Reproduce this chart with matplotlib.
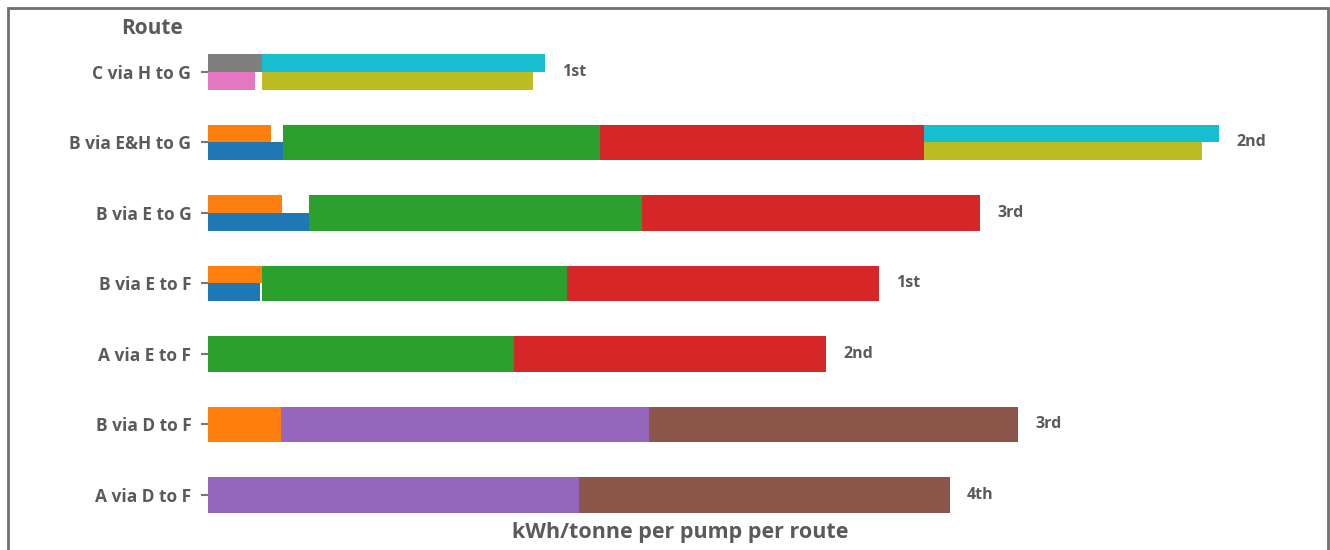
import matplotlib
matplotlib.use("Agg")
import matplotlib.pyplot as plt
from matplotlib.patches import Rectangle

plt.rcParams['font.family'] = ['Open Sans', 'DejaVu Sans']

# routes top to bottom, with the ranking printed after each bar
routes = ["C via H to G", "B via E&H to G", "B via E to G", "B via E to F",
          "A via E to F", "B via D to F", "A via D to F"]
ranks = ["1st", "2nd", "3rd", "1st", "2nd", "3rd", "4th"]

# energy per stage along each route; a pair is two pumps sharing one stage
c_h_g = [[5.4, 4.7], [28.3, 27.1]]
b_eh_g = [[6.3, 7.5], [31.7], [32.4], [29.5, 27.8]]
b_e_g = [[7.4, 10.1], [33.3], [33.8]]
b_e_f = [[5.4, 5.2], [30.5], [31.2]]
a_e_f = [[30.6], [31.2]]
b_d_f = [[7.3], [36.8], [36.9]]
a_d_f = [[37.1], [37.1]]
stages = [c_h_g, b_eh_g, b_e_g, b_e_f, a_e_f, b_d_f, a_d_f]

c_h_g_col = [["tab:gray", "tab:pink"], ["tab:cyan", "tab:olive"]]
b_eh_g_col = [["tab:orange", "tab:blue"], ["tab:green"], ["tab:red"], ["tab:cyan", "tab:olive"]]
b_e_g_col = [["tab:orange", "tab:blue"], ["tab:green"], ["tab:red"]]
b_e_f_col = [["tab:orange", "tab:blue"], ["tab:green"], ["tab:red"]]
a_e_f_col = [["tab:green"], ["tab:red"]]
b_d_f_col = [["tab:orange"], ["tab:purple"], ["tab:brown"]]
a_d_f_col = [["tab:purple"], ["tab:brown"]]
colours = [c_h_g_col, b_eh_g_col, b_e_g_col, b_e_f_col, a_e_f_col, b_d_f_col, a_d_f_col]

txt = "#5a5a5a"
fig = plt.figure(figsize=(13.3, 5.5), dpi=100)
ax = fig.add_axes([208 / 1330, 1 - 520 / 550, (1300 - 208) / 1330, 480 / 550])

h = 0.5
for i, (route, cols) in enumerate(zip(stages, colours)):
    left = 0
    for vals, cs in zip(route, cols):
        if len(vals) == 1:
            ax.barh(i, vals[0], left=left, height=h, color=cs[0])
        else:
            ax.barh(i - h / 4, vals[0], left=left, height=h / 2, color=cs[0])
            ax.barh(i + h / 4, vals[1], left=left, height=h / 2, color=cs[1])
        left += max(vals)
    ax.text(left + 1.7, i, ranks[i], va="center", ha="left",
            fontsize=11.5, color=txt, fontweight="bold")

ax.set_xlim(0, 109.2)
ax.set_ylim(6.355, -0.454)
ax.set_yticks(range(len(routes)))
ax.set_yticklabels(routes)
ax.set_xticks([])
for s in ax.spines.values():
    s.set_visible(False)
ax.tick_params(axis="y", length=5, width=1.5, color="#777777", pad=7,
               labelsize=12.5, labelcolor=txt)
for lab in ax.get_yticklabels():
    lab.set_fontweight("bold")

ax.set_xlabel("kWh/tonne per pump per route", fontsize=15.5, color=txt,
              fontweight="bold")
ax.xaxis.set_label_coords(0.432, -0.027)
ax.xaxis.label.set_va("center")

fig.text(152 / 1330, 1 - 28 / 550, "Route", ha="center", va="center",
         fontsize=15, color=txt, fontweight="bold")

fig.patches.append(Rectangle((8 / 1330, -0.05), 1320 / 1330, 1 - 8 / 550 + 0.05,
                             transform=fig.transFigure, fill=False,
                             edgecolor="#707070", linewidth=2))

fig.savefig("out.png", dpi=100)
